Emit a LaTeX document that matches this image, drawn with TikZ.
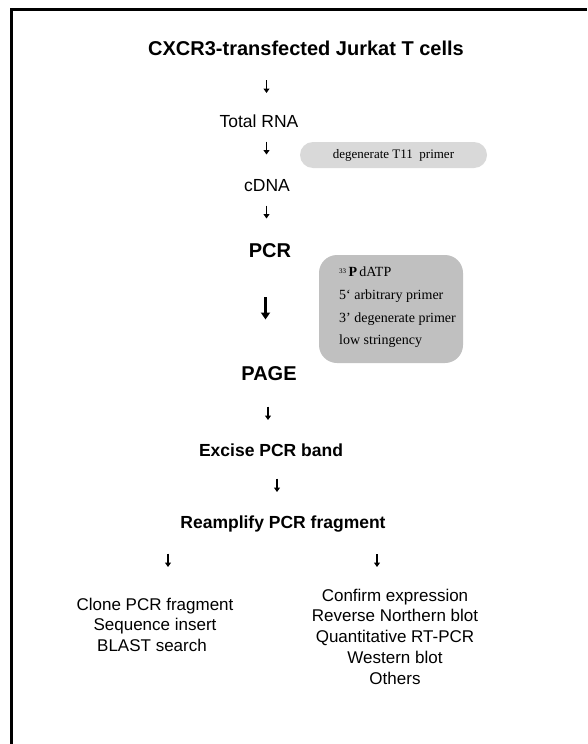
\documentclass[tikz,border=0pt]{standalone}
\usepackage{fontspec}
\setmainfont{Liberation Serif}
\setsansfont{Liberation Sans}
\usetikzlibrary{arrows.meta}
\definecolor{lightfill}{RGB}{217,217,217}
\definecolor{darkfill}{RGB}{192,192,192}
\begin{document}
\begin{tikzpicture}[x=1pt,y=-1pt,
  frameline/.style={line width=3pt,line join=miter},
  arr/.style={line width=1.5pt,-{Triangle[length=4.5pt,width=6pt]}},
  bigarr/.style={line width=2.7pt,-{Triangle[length=7pt,width=9pt]}},
  titletext/.style={inner sep=0pt,anchor=base,font=\sffamily\bfseries\fontsize{20}{24}\selectfont},
  boldstep/.style={inner sep=0pt,anchor=base,font=\sffamily\bfseries\fontsize{17.5}{21}\selectfont},
  bigstep/.style={inner sep=0pt,anchor=base,font=\sffamily\bfseries\fontsize{20}{24}\selectfont},
  plainstep/.style={inner sep=0pt,anchor=base,font=\sffamily\fontsize{17.5}{21}\selectfont},
  resultline/.style={inner sep=0pt,anchor=base,font=\sffamily\fontsize{17}{20.75}\selectfont},
  condline/.style={inner sep=0pt,anchor=base west,font=\rmfamily\fontsize{14}{17}\selectfont},
  pill/.style={fill=lightfill,draw=none,rounded corners=13pt,minimum width=187pt,minimum height=26pt,inner sep=0pt,font=\rmfamily\fontsize{13}{15}\selectfont},
  condbox/.style={fill=darkfill,draw=none,rounded corners=18pt,minimum width=144pt,minimum height=108pt,inner sep=0pt}
]
\useasboundingbox (0,0) rectangle (587,744);
\fill[white] (0,0) rectangle (587,744);
% frame (left and top edges only visible)
\draw[frameline] (11.5,744) -- (11.5,9.5) -- (587,9.5);

% main flow
\node[titletext] (title) at (306,55) {CXCR3-transfected Jurkat T cells};
\node[plainstep] (rna) at (259,127) {Total RNA};
\node[plainstep] (cdna) at (267,191) {cDNA};
\node[bigstep] (pcr) at (270,257) {PCR};
\node[bigstep] (page) at (269,380) {PAGE};
\node[boldstep] (excise) at (271,456) {Excise PCR band};
\node[boldstep] (reamp) at (283,528) {Reamplify PCR fragment};

% side notes
\node[pill] (t11) at (393.5,155) {degenerate T11\ \ primer};
\node[condbox] (cond) at (391,309) {};
\node[condline] (c1) at (339,276.5) {\raisebox{3pt}{\fontsize{7}{8}\selectfont 33}\,\textbf{P}\,dATP};
\node[condline] (c2) at (339,299.3) {5‘ arbitrary primer};
\node[condline] (c3) at (339,322) {3’ degenerate primer};
\node[condline] (c4) at (339,344.7) {low stringency};

% results
\node[resultline] (l1) at (155,610) {Clone PCR fragment};
\node[resultline] (l2) at (155,630.5) {Sequence insert};
\node[resultline] (l3) at (152,651) {BLAST search};
\node[resultline] (r1) at (395,601) {Confirm expression};
\node[resultline] (r2) at (395,621.75) {Reverse Northern blot};
\node[resultline] (r3) at (395,642.5) {Quantitative RT-PCR};
\node[resultline] (r4) at (395,663.25) {Western blot};
\node[resultline] (r5) at (395,684) {Others};

% arrows
\coordinate (a1s) at (266.5,80);    \coordinate (a1e) at (266.5,93);
\coordinate (a2s) at (266.5,141.5); \coordinate (a2e) at (266.5,154.5);
\coordinate (a3s) at (266.5,205.5); \coordinate (a3e) at (266.5,218.5);
\coordinate (a4s) at (265.5,297);   \coordinate (a4e) at (265.5,319.5);
\coordinate (a5s) at (268,406.5);   \coordinate (a5e) at (268,420);
\coordinate (a6s) at (277,478.5);   \coordinate (a6e) at (277,492);
\coordinate (a7s) at (168,553.5);   \coordinate (a7e) at (168,567);
\coordinate (a8s) at (377,554);     \coordinate (a8e) at (377,567);
\draw[arr] (a1s) -- (a1e);
\draw[arr] (a2s) -- (a2e);
\draw[arr] (a3s) -- (a3e);
\draw[bigarr] (a4s) -- (a4e);
\draw[arr] (a5s) -- (a5e);
\draw[arr] (a6s) -- (a6e);
\draw[arr] (a7s) -- (a7e);
\draw[arr] (a8s) -- (a8e);
\end{tikzpicture}
\end{document}
